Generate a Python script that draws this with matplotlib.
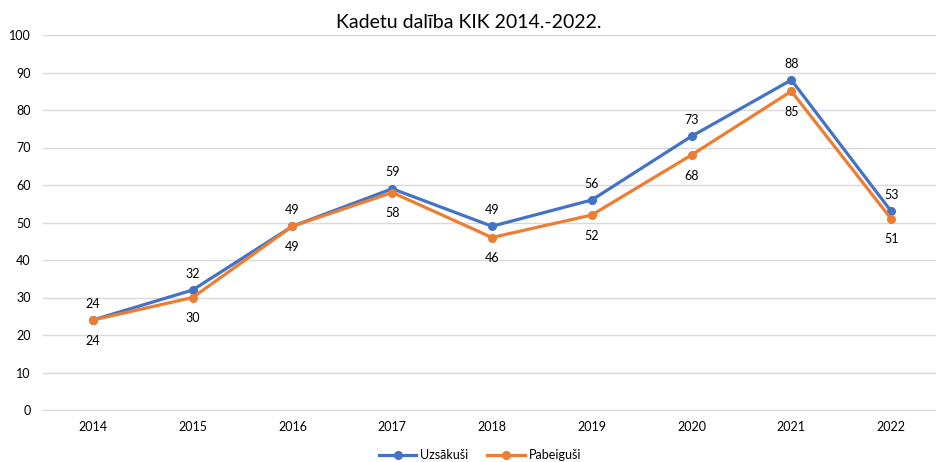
import matplotlib
matplotlib.use("Agg")
import matplotlib.pyplot as plt

years = ["2014", "2015", "2016", "2017", "2018", "2019", "2020", "2021", "2022"]
uzsakusi = [24, 32, 49, 59, 49, 56, 73, 88, 53]
pabeigusi = [24, 30, 49, 58, 46, 52, 68, 85, 51]
yticks = [0, 10, 20, 30, 40, 50, 60, 70, 80, 90, 100]

plt.rcParams['font.family'] = ['Lato', 'DejaVu Sans']

fig = plt.figure(figsize=(9.37, 4.62), dpi=100)
ax = fig.add_axes([43/937, 1 - 410/462, 898/937, 375/462])

x = list(range(len(years)))
blue = "#4472C4"
orange = "#ED7D31"
ax.plot(x, uzsakusi, color=blue, lw=2.3, marker='o', ms=5.5, label="Uzsākuši", zorder=3)
ax.plot(x, pabeigusi, color=orange, lw=2.3, marker='o', ms=5.5, label="Pabeiguši", zorder=4)

for i, v in enumerate(uzsakusi):
    ax.annotate(str(v), (i, v), xytext=(0, 7.5), textcoords='offset points',
                ha='center', va='bottom', fontsize=9, color='#000000')
for i, v in enumerate(pabeigusi):
    ax.annotate(str(v), (i, v), xytext=(0, -10.5), textcoords='offset points',
                ha='center', va='top', fontsize=9, color='#000000')

ax.set_xlim(-0.5, len(years) - 0.5)
ax.set_ylim(0, 100)
ax.set_yticks(yticks)
ax.set_xticks(x)
ax.set_xticklabels(years)
ax.tick_params(axis='both', length=0, labelsize=9, colors='#000000')
ax.tick_params(axis='x', pad=8)
ax.tick_params(axis='y', pad=9)
ax.grid(axis='y', color='#D9D9D9', lw=1)
ax.set_axisbelow(True)
for s in ['top', 'right', 'left']:
    ax.spines[s].set_visible(False)
ax.spines['bottom'].set_color('#D9D9D9')

fig.text(0.5, 1 - 22/462, "Kadetu dalība KIK 2014.-2022.", ha='center', va='center', fontsize=14)

fig.legend(loc='center', bbox_to_anchor=(480/937, 1 - 455/462), ncol=2, frameon=False,
           fontsize=9, handlelength=3, columnspacing=1.5, handletextpad=0.3)

fig.savefig("out.png", dpi=100)
